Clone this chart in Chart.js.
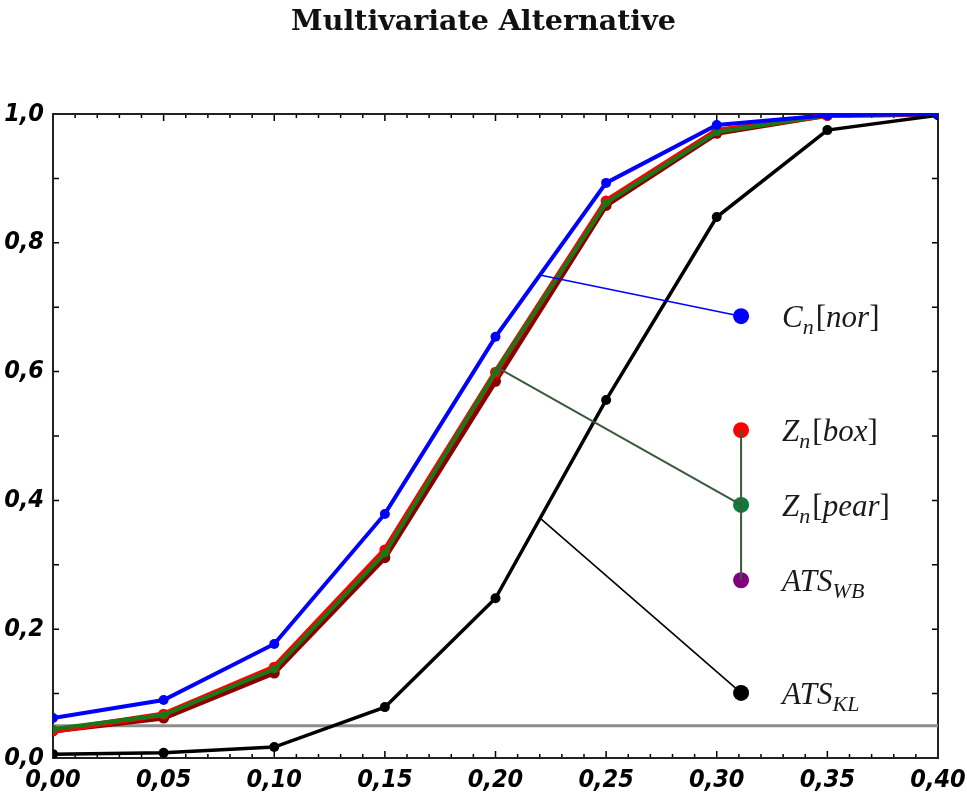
<!DOCTYPE html>
<html>
<head>
<meta charset="utf-8">
<script src="https://cdn.jsdelivr.net/npm/chart.js@4.4.1/dist/chart.umd.min.js"></script>
<style>
  html, body { margin: 0; padding: 0; background: #fff; }
  #wrap { width: 967px; height: 805px; }
</style>
</head>
<body>
<div id="wrap"><canvas id="powerChart" width="967" height="805"></canvas></div>
<script>
// shift levels on the x axis
const shiftLevels = [0.00, 0.05, 0.10, 0.15, 0.20, 0.25, 0.30, 0.35, 0.40];

// empirical power of each test
const cnNor  = [0.062, 0.090, 0.177, 0.379, 0.654, 0.893, 0.983, 0.998, 1.000];
const znBox  = [0.042, 0.068, 0.141, 0.323, 0.599, 0.865, 0.974, 0.998, 1.000];
const znPear = [0.045, 0.067, 0.138, 0.318, 0.599, 0.862, 0.972, 0.998, 1.000];
const atsWb  = [0.042, 0.062, 0.132, 0.311, 0.585, 0.858, 0.970, 0.998, 1.000];
const atsKl  = [0.006, 0.008, 0.017, 0.079, 0.248, 0.556, 0.840, 0.975, 0.998];

// nominal level
const nominalLevel = 0.05;

// callout legend: label dots and where their lines start on the curves
const legendX = 0.311;
const legendNames = ['cn', 'box', 'pear', 'wb', 'kl'];
const legendY = [0.686, 0.509, 0.393, 0.276, 0.101];
const legendColors = ['#0000ff', '#ff0000', '#0b7d3a', '#800080', '#000000'];
const calloutFromX = [0.220, 0.2005, 0.220];
const calloutFromY = [0.750, 0.607, 0.373];
const calloutToIdx = [0, 2, 4];
const calloutColors = ['#0000ff', '#3b5a3b', '#000000'];

const legendLabels = {
  cn:   [['C', 'i'], ['n', 's'], ['[', 'r'], ['nor', 'i'], [']', 'r']],
  box:  [['Z', 'i'], ['n', 's'], ['[', 'r'], ['box', 'i'], [']', 'r']],
  pear: [['Z', 'i'], ['n', 's'], ['[', 'r'], ['pear', 'i'], [']', 'r']],
  wb:   [['ATS', 'i'], ['WB', 's']],
  kl:   [['ATS', 'i'], ['KL', 's']]
};

const pts = (ys) => shiftLevels.map((x, i) => ({ x: x, y: ys[i] }));
const comma = (v, d) => Number(v).toFixed(d).replace('.', ',');

const serif = "'Liberation Serif', 'DejaVu Serif', serif";
const tickFamily = "'Liberation Sans Narrow', 'DejaVu Sans Condensed', 'Liberation Sans', sans-serif";

function curve(label, ys, color, width, radius, order) {
  return {
    label: label,
    data: pts(ys),
    borderColor: color,
    backgroundColor: color,
    borderWidth: width,
    pointRadius: radius,
    pointBorderWidth: 0,
    pointBackgroundColor: color,
    tension: 0,
    order: order
  };
}

const datasets = [
  curve('C_n[nor]', cnNor, '#0000ff', 4, 5, 3),
  curve('ATS_KL', atsKl, '#000000', 3.5, 5, 4),
  curve('Z_n[pear]', znPear, '#157a15', 4, 4, 5),
  curve('Z_n[box]', znBox, '#ff0000', 5.5, 5.5, 6),
  curve('ATS_WB', atsWb, '#8b0000', 5, 5.5, 7),
  {
    label: 'nominal',
    data: [{ x: shiftLevels[0], y: nominalLevel }, { x: shiftLevels[shiftLevels.length - 1], y: nominalLevel }],
    borderColor: '#8c8c8c',
    borderWidth: 3,
    pointRadius: 0,
    order: 8
  },
  {
    label: 'legend dots',
    type: 'scatter',
    data: legendY.map((y) => ({ x: legendX, y: y })),
    pointRadius: 8,
    pointBorderWidth: 0,
    pointBackgroundColor: legendColors,
    order: 1
  },
  {
    label: 'bracket',
    data: [{ x: legendX, y: legendY[1] }, { x: legendX, y: legendY[3] }],
    borderColor: '#3b5a3b',
    borderWidth: 2,
    pointRadius: 0,
    order: 0
  }
];

calloutFromX.forEach((fx, i) => {
  datasets.push({
    label: 'callout ' + i,
    data: [{ x: fx, y: calloutFromY[i] }, { x: legendX, y: legendY[calloutToIdx[i]] }],
    borderColor: calloutColors[i],
    borderWidth: i === 1 ? 2 : 1.6,
    pointRadius: 0,
    order: 0
  });
});

// inward ticks on all four sides plus the frame
const frameTicks = {
  id: 'frameTicks',
  beforeDatasetsDraw(chart) {
    const { ctx, chartArea: a, scales } = chart;
    ctx.save();
    ctx.strokeStyle = '#000';
    ctx.lineWidth = 1.5;
    ctx.beginPath();
    for (let k = 0; k <= 40; k++) {
      const px = scales.x.getPixelForValue(k / 100);
      const len = k % 5 === 0 ? 7 : 4;
      ctx.moveTo(px, a.bottom); ctx.lineTo(px, a.bottom - len);
      ctx.moveTo(px, a.top); ctx.lineTo(px, a.top + len);
    }
    for (let k = 0; k <= 10; k++) {
      const py = scales.y.getPixelForValue(k / 10);
      ctx.moveTo(a.left, py); ctx.lineTo(a.left + 6, py);
      ctx.moveTo(a.right, py); ctx.lineTo(a.right - 6, py);
    }
    ctx.stroke();
    ctx.lineWidth = 2;
    ctx.strokeStyle = '#222';
    ctx.strokeRect(a.left, a.top, a.right - a.left, a.bottom - a.top);
    ctx.restore();
  }
};

// math style labels next to the legend dots
const calloutLabels = {
  id: 'calloutLabels',
  afterDraw(chart) {
    const { ctx, scales } = chart;
    const size = 31;
    ctx.save();
    ctx.fillStyle = '#1a1a1a';
    ctx.textBaseline = 'alphabetic';
    legendNames.forEach((name, i) => {
      let x = scales.x.getPixelForValue(legendX) + 41;
      const base = scales.y.getPixelForValue(legendY[i]) + 11;
      legendLabels[name].forEach(([txt, kind]) => {
        let y = base;
        if (kind === 's') {
          ctx.font = 'italic ' + Math.round(size * 0.7) + 'px ' + serif;
          y = base + 7;
        } else if (kind === 'i') {
          ctx.font = 'italic ' + size + 'px ' + serif;
        } else {
          ctx.font = size + 'px ' + serif;
        }
        ctx.fillText(txt, x, y);
        x += ctx.measureText(txt).width + (kind === 's' ? 2 : 0);
      });
    });
    ctx.restore();
  }
};

new Chart(document.getElementById('powerChart'), {
  type: 'line',
  data: { datasets: datasets },
  options: {
    responsive: false,
    animation: false,
    layout: { padding: { left: 0, right: 0, top: 0, bottom: 0 } },
    plugins: {
      legend: { display: false },
      tooltip: { enabled: false },
      title: {
        display: true,
        text: 'Multivariate Alternative',
        color: '#111',
        font: { family: "'DejaVu Serif', serif", size: 28.5, weight: 'bold' },
        padding: { top: 5, bottom: 74.8 }
      }
    },
    scales: {
      x: {
        type: 'linear',
        min: 0,
        max: 0.4,
        grid: { display: false, tickLength: 0 },
        border: { display: false },
        ticks: {
          stepSize: 0.05,
          padding: 7,
          color: '#000',
          font: { family: tickFamily, size: 25, style: 'italic', weight: 'bold' },
          callback: (v) => comma(v, 2)
        },
        afterFit(scale) {
          scale.height = 47;
          scale.paddingRight = 29;
        }
      },
      y: {
        min: 0,
        max: 1,
        grid: { display: false, tickLength: 0 },
        border: { display: false },
        ticks: {
          stepSize: 0.2,
          padding: 9,
          color: '#000',
          font: { family: tickFamily, size: 25, style: 'italic', weight: 'bold' },
          callback: (v) => comma(v, 1)
        },
        afterFit(scale) { scale.width = 53; }
      }
    }
  },
  plugins: [frameTicks, calloutLabels]
});
</script>
</body>
</html>
